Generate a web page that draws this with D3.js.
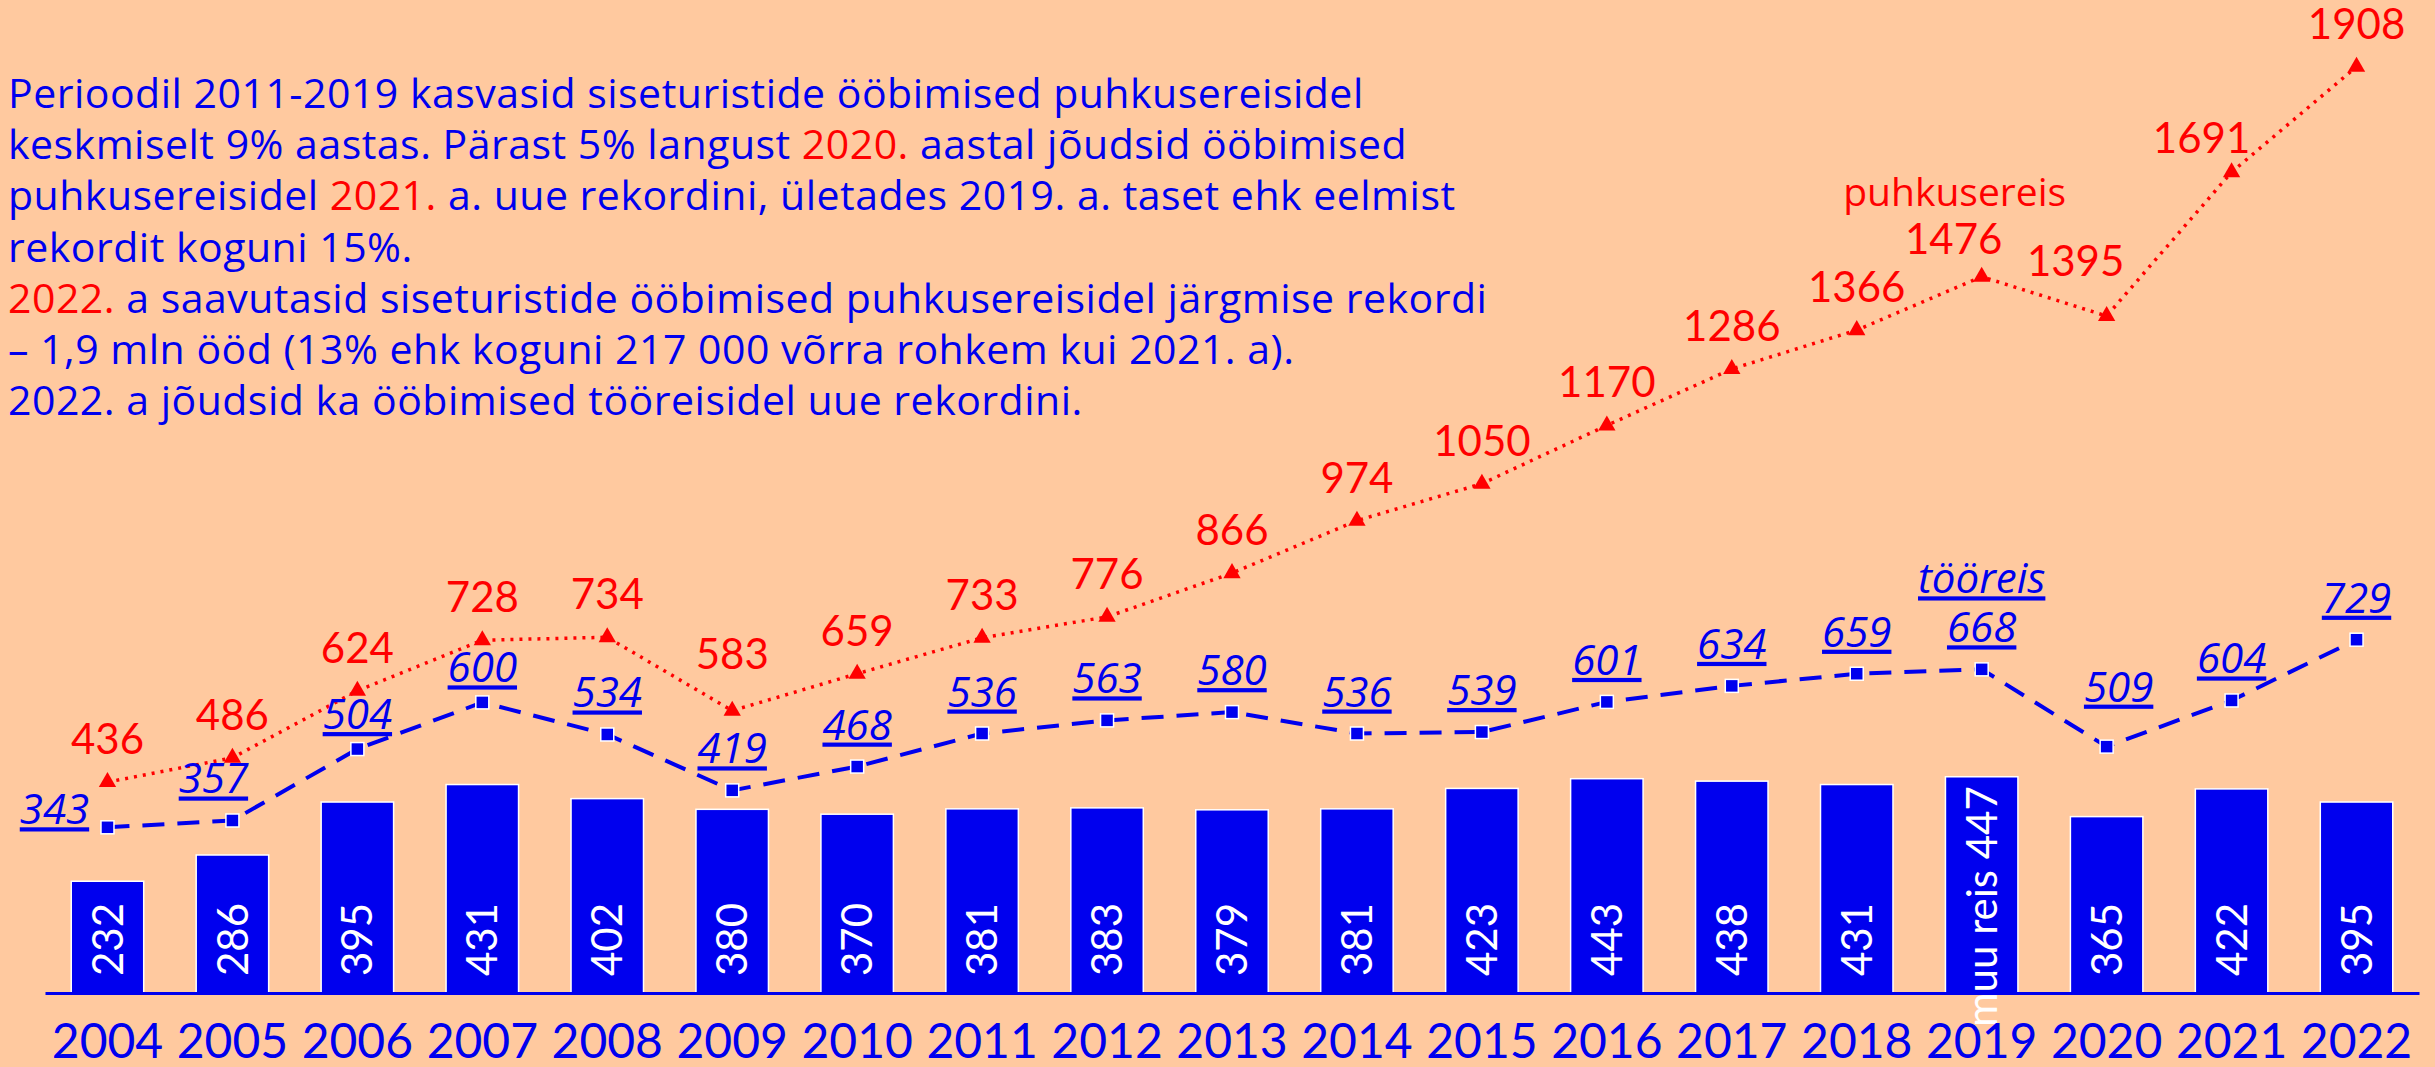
<!DOCTYPE html>
<html>
<head>
<meta charset="utf-8">
<script src="https://cdn.jsdelivr.net/npm/d3@7"></script>
<style>
  body { margin: 0; background: #ffc99f; }
  svg { display: block; }
  text { font-family: Lato, "Noto Sans", sans-serif; }
</style>
</head>
<body>
<div id="chart"></div>
<script>
const years = ['2004','2005','2006','2007','2008','2009','2010','2011','2012','2013','2014','2015','2016','2017','2018','2019','2020','2021','2022'];
const puhkusereis = [436, 486, 624, 728, 734, 583, 659, 733, 776, 866, 974, 1050, 1170, 1286, 1366, 1476, 1395, 1691, 1908];
const tooreis = [343, 357, 504, 600, 534, 419, 468, 536, 563, 580, 536, 539, 601, 634, 659, 668, 509, 604, 729];
const muuReis = [232, 286, 395, 431, 402, 380, 370, 381, 383, 379, 381, 423, 443, 438, 431, 447, 365, 422, 395];

// intro text, [text, isRed] pieces per line
const introLines = [
  [['Perioodil 2011-2019 kasvasid siseturistide ööbimised puhkusereisidel', false]],
  [['keskmiselt 9% aastas. Pärast 5% langust ', false], ['2020.', true], [' aastal jõudsid ööbimised', false]],
  [['puhkusereisidel ', false], ['2021.', true], [' a. uue rekordini, ületades 2019. a. taset ehk eelmist', false]],
  [['rekordit koguni 15%.', false]],
  [['2022.', true], [' a saavutasid siseturistide ööbimised puhkusereisidel järgmise rekordi', false]],
  [['– 1,9 mln ööd (13% ehk koguni 217 000 võrra rohkem kui 2021. a).', false]],
  [['2022. a jõudsid ka ööbimised tööreisidel uue rekordini.', false]]
];

const width = 2435;
const height = 1067;
const blue = '#0000ee';
const red = '#ff0000';

// small label shifts where the original moved labels apart
const redNudge = { '2009': [0, -14], '2019': [-28, 5], '2020': [-31, -12], '2021': [-30, 9] };
const blueNudge = { '2004': [-53, 24], '2005': [-19, 0], '2006': [0, 7], '2007': [0, 7], '2020': [12, -18] };

const svg = d3.select('#chart').append('svg')
  .attr('width', width)
  .attr('height', height);

const x = d3.scaleBand()
  .domain(years)
  .range([45, 2419])
  .paddingInner(0.42)
  .paddingOuter(0.21);

const y = d3.scaleLinear()
  .domain([0, 2000])
  .range([994, 22]);

const cx = d => x(d) + x.bandwidth() / 2;

// intro text
const intro = svg.append('g').attr('class', 'intro');
introLines.forEach((line, i) => {
  const t = intro.append('text')
    .attr('x', 8)
    .attr('y', 108 + i * 51.2)
    .style('font-family', '"Open Sans", sans-serif')
    .style('font-size', '41px')
    .style('letter-spacing', '0.5px');
  line.forEach(p => {
    t.append('tspan')
      .attr('fill', p[1] ? red : blue)
      .text(p[0]);
  });
});

// bars
svg.append('g').selectAll('rect')
  .data(muuReis)
  .enter().append('rect')
    .attr('x', (d, i) => x(years[i]))
    .attr('y', d => y(d))
    .attr('width', x.bandwidth())
    .attr('height', d => y(0) - y(d))
    .attr('fill', blue)
    .attr('stroke', '#ffffff')
    .attr('stroke-width', 1.5);

// bar labels, rotated
svg.append('g').selectAll('text')
  .data(muuReis)
  .enter().append('text')
    .attr('transform', (d, i) => `translate(${cx(years[i])}, ${years[i] === '2019' ? 1027 : 976}) rotate(-90)`)
    .attr('dy', '0.36em')
    .attr('fill', '#ffffff')
    .style('font-size', '42px')
    .text((d, i) => years[i] === '2019' ? 'muu reis ' + d : d);

// x axis
const axis = svg.append('g')
  .attr('transform', 'translate(0, 993)')
  .call(d3.axisBottom(x).tickSize(0).tickSizeOuter(0).tickPadding(31));
axis.select('.domain').attr('stroke', blue).attr('stroke-width', 3);
axis.selectAll('text')
  .attr('fill', blue)
  .style('font-size', '48px')
  .style('font-family', 'Lato, sans-serif');

// lines
const line = d3.line()
  .x((d, i) => cx(years[i]))
  .y(d => y(d));

svg.append('path')
  .datum(tooreis)
  .attr('d', line)
  .attr('fill', 'none')
  .attr('stroke', blue)
  .attr('stroke-width', 4)
  .attr('stroke-dasharray', '22,13');

svg.append('path')
  .datum(puhkusereis)
  .attr('d', line)
  .attr('fill', 'none')
  .attr('stroke', red)
  .attr('stroke-width', 3.5)
  .attr('stroke-dasharray', '3,6');

// markers
svg.append('g').selectAll('rect')
  .data(tooreis)
  .enter().append('rect')
    .attr('x', (d, i) => cx(years[i]) - 6.5)
    .attr('y', d => y(d) - 6.5)
    .attr('width', 13)
    .attr('height', 13)
    .attr('fill', blue)
    .attr('stroke', '#ffffff')
    .attr('stroke-width', 1.5);

const tri = d3.symbol().type(d3.symbolTriangle).size(130);
svg.append('g').selectAll('path')
  .data(puhkusereis)
  .enter().append('path')
    .attr('d', tri)
    .attr('transform', (d, i) => `translate(${cx(years[i])}, ${y(d)})`)
    .attr('fill', red);

// value labels
svg.append('g').selectAll('text')
  .data(puhkusereis)
  .enter().append('text')
    .attr('x', (d, i) => cx(years[i]) + (redNudge[years[i]] || [0, 0])[0])
    .attr('y', (d, i) => y(d) - 28 + (redNudge[years[i]] || [0, 0])[1])
    .attr('text-anchor', 'middle')
    .attr('fill', red)
    .style('font-size', '42px')
    .text(d => d);

svg.append('g').selectAll('text')
  .data(tooreis)
  .enter().append('text')
    .attr('x', (d, i) => cx(years[i]) + (blueNudge[years[i]] || [0, 0])[0])
    .attr('y', (d, i) => y(d) - 27 + (blueNudge[years[i]] || [0, 0])[1])
    .attr('text-anchor', 'middle')
    .attr('fill', blue)
    .style('font-family', '"Open Sans", sans-serif')
    .style('font-size', '42px')
    .style('font-style', 'italic')
    .style('text-decoration', 'underline')
    .text(d => d);

// series names, next to the 2019 point
const iName = years.indexOf('2019');
svg.append('text')
  .attr('x', cx('2019') - 27)
  .attr('y', y(puhkusereis[iName]) - 28 + 5 - 48)
  .attr('text-anchor', 'middle')
  .attr('fill', red)
  .style('font-family', '"Open Sans", sans-serif')
  .style('font-size', '39px')
  .text('puhkusereis');

svg.append('text')
  .attr('x', cx('2019'))
  .attr('y', y(tooreis[iName]) - 27 - 49)
  .attr('text-anchor', 'middle')
  .attr('fill', blue)
  .style('font-family', '"Open Sans", sans-serif')
  .style('font-size', '42px')
  .style('font-style', 'italic')
  .style('text-decoration', 'underline')
  .text('tööreis');
</script>
</body>
</html>
